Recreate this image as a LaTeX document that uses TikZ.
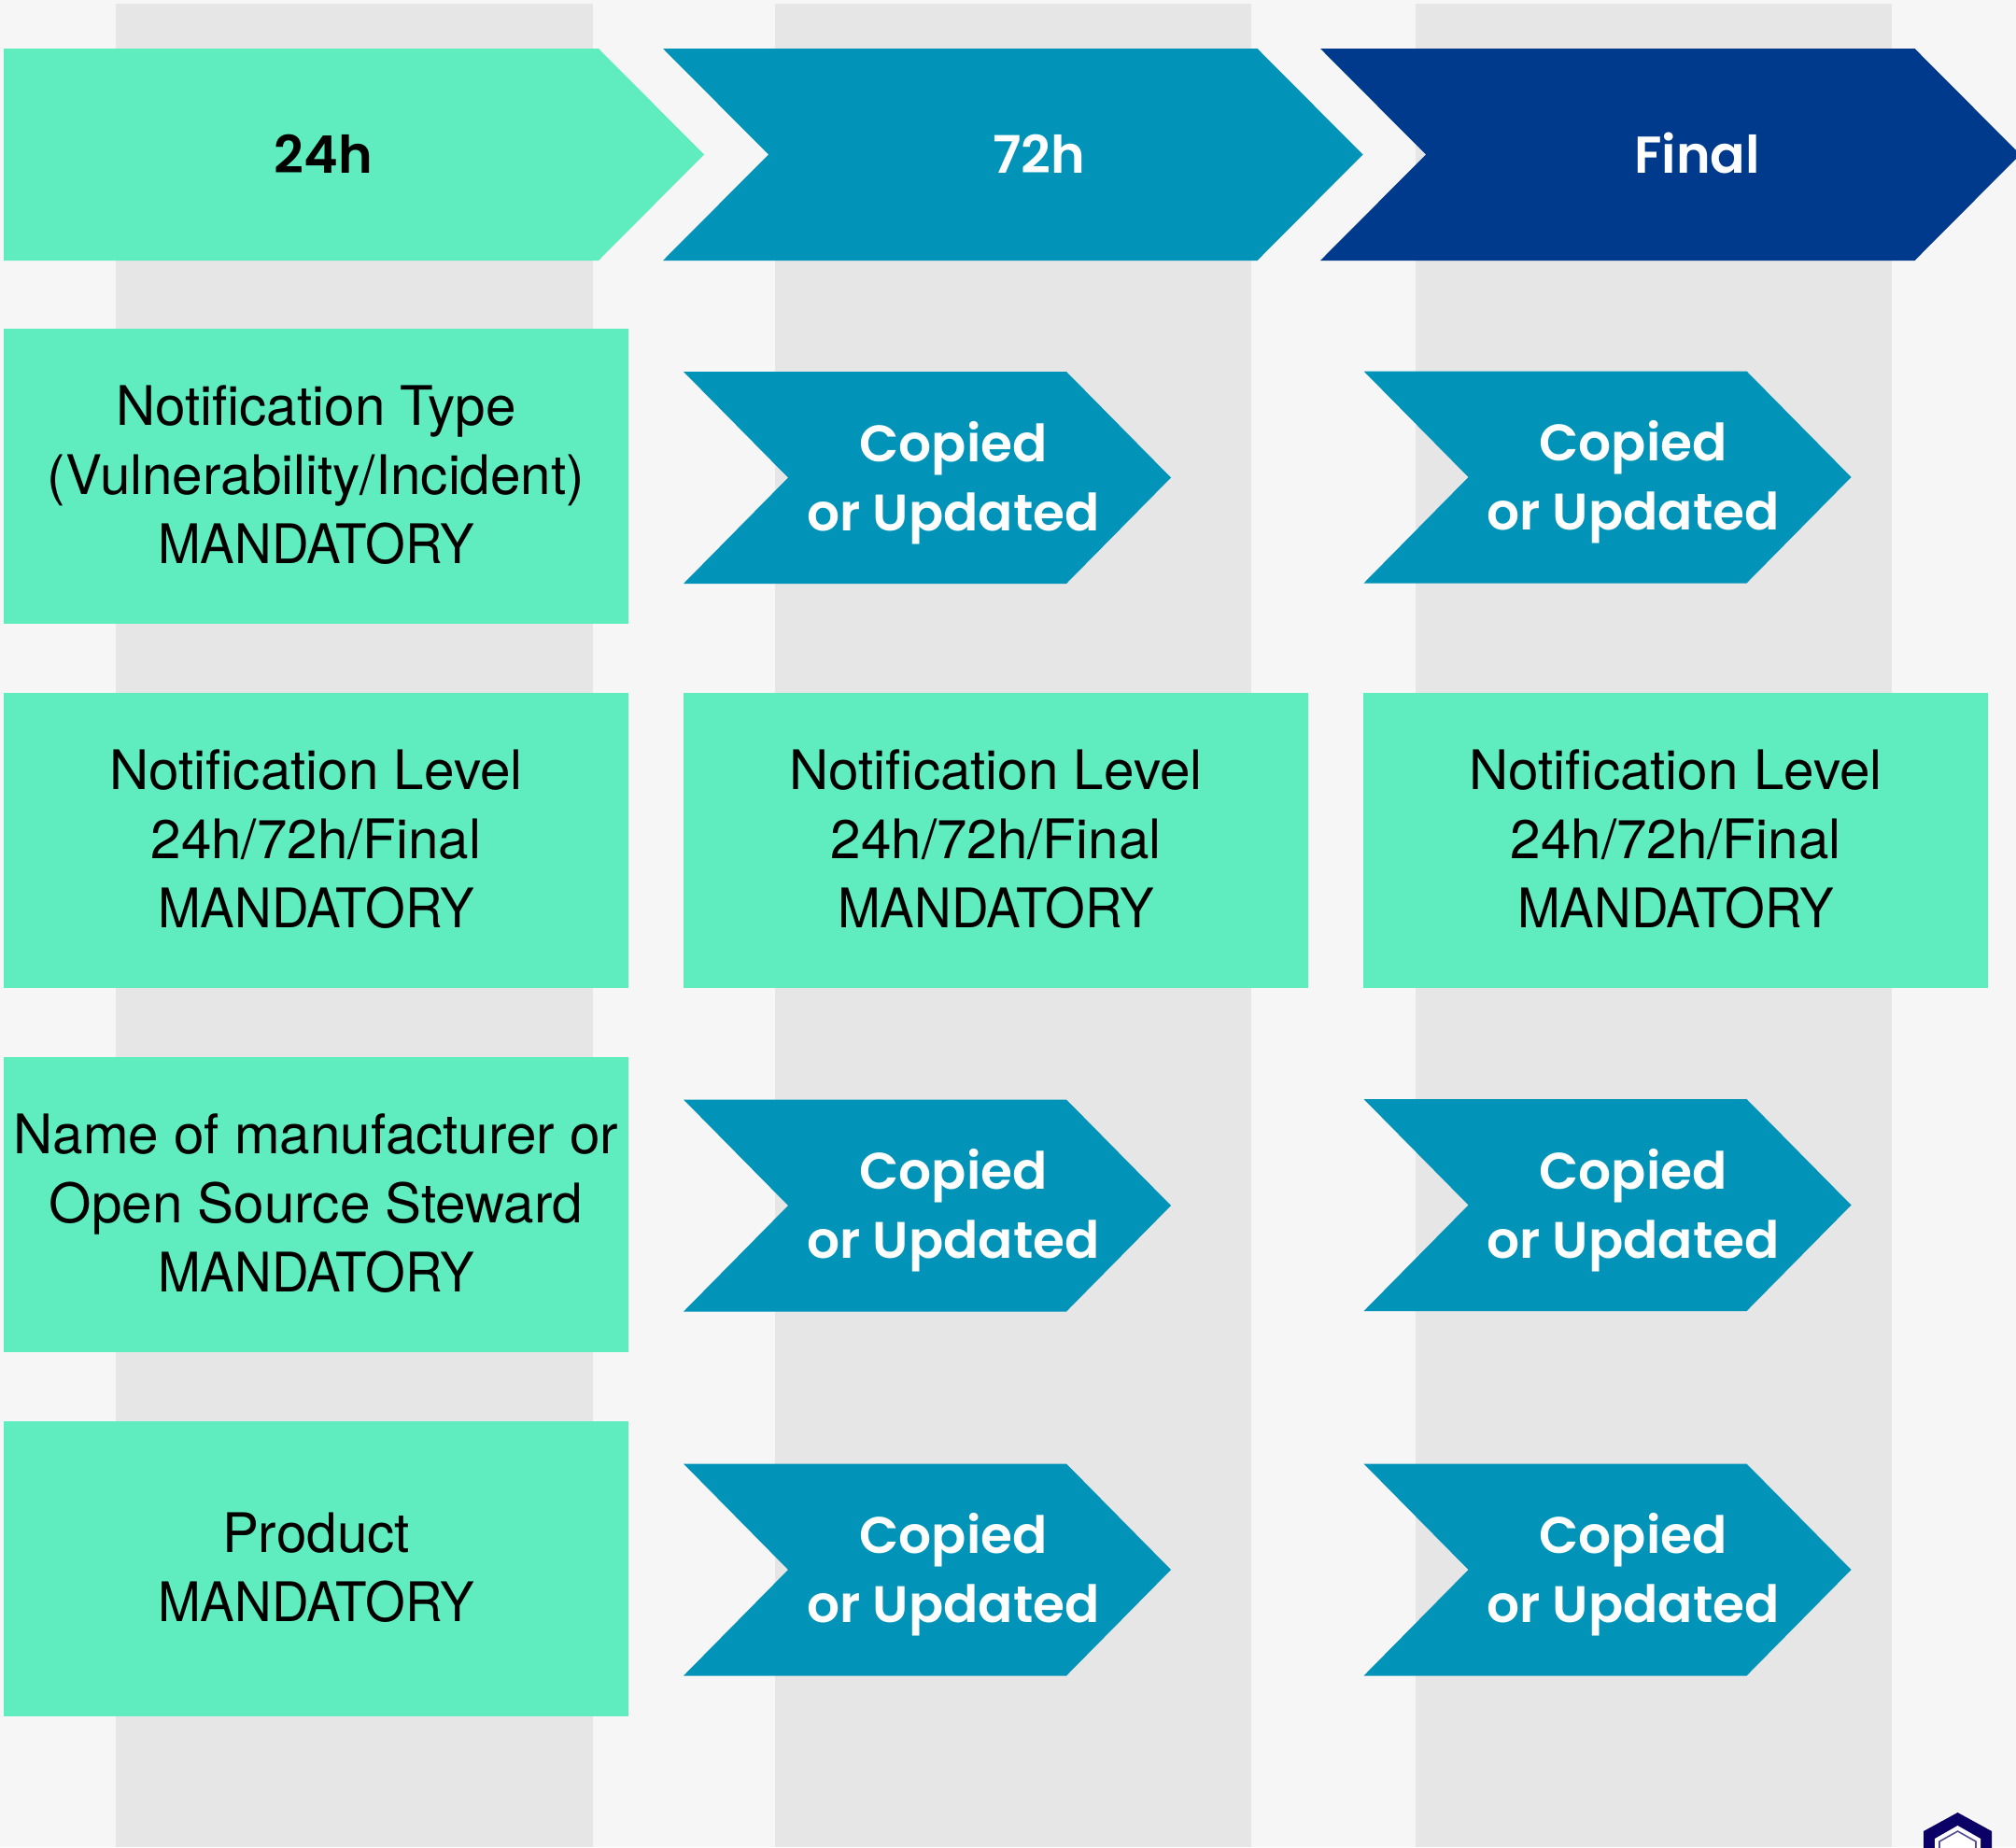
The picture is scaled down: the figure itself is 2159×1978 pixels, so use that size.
\documentclass[tikz,border=0pt]{standalone}
\usepackage{fontspec}
\setmainfont{TeX Gyre Heros}
\newfontfamily\boldface{Poppins SemiBold}
\newfontfamily\capsface[FakeStretch=0.94]{TeX Gyre Heros}
\newcommand{\mand}{{\capsface MANDATORY}}
\definecolor{bgc}{HTML}{F6F6F6}
\definecolor{bandc}{HTML}{E6E6E6}
\definecolor{mint}{HTML}{5FEDC0}
\definecolor{teal2}{HTML}{0294B8}
\definecolor{navy2}{HTML}{003A8C}
\definecolor{logoc}{HTML}{0A0066}
\tikzset{
  bandbox/.style={fill=bandc,draw=none},
  infobox/.style={fill=mint,draw=none,minimum width=669pt,minimum height=316pt,inner sep=0pt,anchor=center,align=center,text=black,font=\fontsize{58.4}{74.3}\selectfont},
  infotext/.style={inner sep=0pt,anchor=center,align=center,text=black,font=\fontsize{58.4}{74.3}\selectfont},
  headtext/.style={inner sep=0pt,align=center,font=\fontsize{55.5}{74.3}\boldface},
  copytext/.style={inner sep=0pt,align=center,text=white,font=\fontsize{55}{74.3}\boldface},
}
\newcommand{\chevshape}[6]{%
  \fill[#3] (#1,#2) -- ++(#4,0) -- ++(#6,#5/2) -- ++(-#6,#5/2) -- ++(-#4,0) -- ++(#6,-#5/2) -- cycle;}
\newcommand{\copybox}[4]{%
  \chevshape{#2}{#3}{teal2}{410}{227}{112}
  \node[copytext] (#1) at (#4,#3+119) {Copied\\or Updated};}
% name, left, top, text
\newcommand{\mintbox}[4]{%
  \node[infobox] (#1) at (#2+334.5,#3+158) {};
  \node[infotext] (#1t) at (#2+334.5,#3+156.8) {#4};}
\begin{document}
\begin{tikzpicture}[x=1pt,y=-1pt]
\useasboundingbox (0,0) rectangle (2159,1978);
\fill[bgc] (0,0) rectangle (2159,1978);
\fill[bandbox] (124,4) rectangle (634.5,1978);
\fill[bandbox] (830,4) rectangle (1340,1978);
\fill[bandbox] (1516,4) rectangle (2026,1978);
% header
\fill[mint] (4,52) -- (641,52) -- (754,165.5) -- (641,279) -- (4,279) -- cycle;
\node[headtext,text=black] (h24) at (346.5,165) {24h};
\chevshape{710}{52}{teal2}{636.5}{227}{113}
\node[headtext,text=white] (h72) at (1112.5,165) {72h};
\chevshape{1414}{52}{navy2}{636.5}{227}{113}
\node[headtext,text=white] (hfinal) at (1817.5,164) {Final};
% rows
\mintbox{a1}{4}{352}{Notification Type\\(Vulnerability/Incident)\\\mand}
\mintbox{a2}{4}{742}{Notification Level\\24h/72h/Final\\\mand}
\mintbox{b2}{732}{742}{Notification Level\\24h/72h/Final\\\mand}
\mintbox{c2}{1460}{742}{Notification Level\\24h/72h/Final\\\mand}
\mintbox{a3}{4}{1132}{Name of manufacturer or\\Open Source Steward\\\mand}
\mintbox{a4}{4}{1522}{Product\\\mand}
\copybox{b1}{732}{398}{1021}
\copybox{c1}{1460.5}{397.5}{1749}
\copybox{b3}{732}{1177.5}{1021}
\copybox{c3}{1460.5}{1177}{1749}
\copybox{b4}{732}{1567.5}{1021}
\copybox{c4}{1460.5}{1567.5}{1749}
% logo
\begin{scope}
\clip (2040,1930) rectangle (2159,1978);
\fill[logoc] (2096.5,1941) -- (2133,1961) -- (2133,2000) -- (2060,2000) -- (2060,1961) -- cycle;
\fill[white] (2096.5,1955) -- (2121,1969) -- (2121,2000) -- (2072,2000) -- (2072,1969) -- cycle;
\draw[logoc!70,line width=1.6pt] (2096.5,1961) -- (2116,1972) -- (2116,2000) -- (2077,2000) -- (2077,1972) -- cycle;
\end{scope}
\end{tikzpicture}
\end{document}
